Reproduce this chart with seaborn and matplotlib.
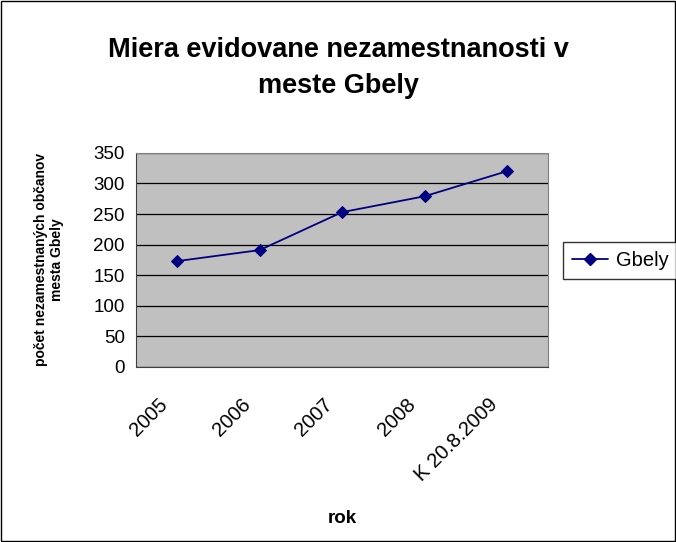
import numpy as np
import pandas as pd
import seaborn as sns
import matplotlib.pyplot as plt
import matplotlib.patches as mpatches

categories = ["2005", "2006", "2007", "2008", "K 20.8.2009"]
values = [173, 191, 253, 279, 320]
series_name = "Gbely"
y_ticks = [0, 50, 100, 150, 200, 250, 300, 350]

sns.set_style("white")
plt.rcParams['font.family'] = ['Liberation Sans', 'DejaVu Sans']
plt.rcParams['text.color'] = "black"
plt.rcParams['xtick.color'] = "black"
plt.rcParams['ytick.color'] = "black"
plt.rcParams['axes.labelcolor'] = "black"

df = pd.DataFrame({"pos": np.arange(len(categories)) + 0.5, "val": values, "name": series_name})

fig = plt.figure(figsize=(6.76, 5.42), dpi=100)
ax = fig.add_axes([0.201, 0.323, 0.610, 0.395])
ax.set_facecolor("#C0C0C0")

sns.lineplot(data=df, x="pos", y="val", hue="name", palette=["#000080"], marker="D",
             markersize=6, markeredgecolor="#000080", linewidth=1.3, ax=ax, legend=False)

ax.set_xlim(0, len(categories))
ax.set_ylim(0, 350)
ax.set_yticks(y_ticks, [str(t) for t in y_ticks], fontsize=13.5)
ax.set_xticks(np.arange(len(categories) + 1), [""] * (len(categories) + 1))
ax.set_xticks(np.arange(len(categories)) + 0.27, categories, minor=True, fontsize=14.5,
              rotation=45, ha="right", rotation_mode="anchor")
ax.tick_params(axis="x", which="minor", length=0, pad=20)
ax.tick_params(axis="both", which="major", length=5, width=1, color="#404040", direction="out")
ax.tick_params(axis="y", pad=3)
ax.grid(which="major", axis="y", color="black", linewidth=0.9)
ax.grid(which="major", axis="x", visible=False)
for side in ["top", "right"]:
    ax.spines[side].set_color("#808080")
for side in ["left", "bottom"]:
    ax.spines[side].set_color("#404040")

ax.set_xlabel("rok", fontsize=13.5, fontweight="bold")
ax.set_ylabel("počet nezamestnaných občanov\nmesta Gbely", fontsize=10, fontweight="bold")
ax.xaxis.set_label_coords(0.5, -0.67)
ax.yaxis.set_label_coords(-0.175, 0.5)

fig.suptitle("Miera evidovane nezamestnanosti v\nmeste Gbely", x=0.5, y=0.932,
             fontsize=19.5, fontweight="bold", linespacing=1.5)

handle = plt.Line2D([], [], color="#000080", marker="D", markersize=6, linewidth=1.3)
fig.legend([handle], [series_name], loc="center left", bbox_to_anchor=(0.833, 0.52),
           fontsize=14.5, frameon=True, fancybox=False, edgecolor="black", borderpad=0.45,
           borderaxespad=0, handlelength=1.8, handletextpad=0.4)

fig.patches.append(mpatches.Rectangle((0.001, 0.001), 0.998, 0.998, transform=fig.transFigure,
                                      fill=False, edgecolor="black", linewidth=1))

fig.savefig("out.png", dpi=100)
